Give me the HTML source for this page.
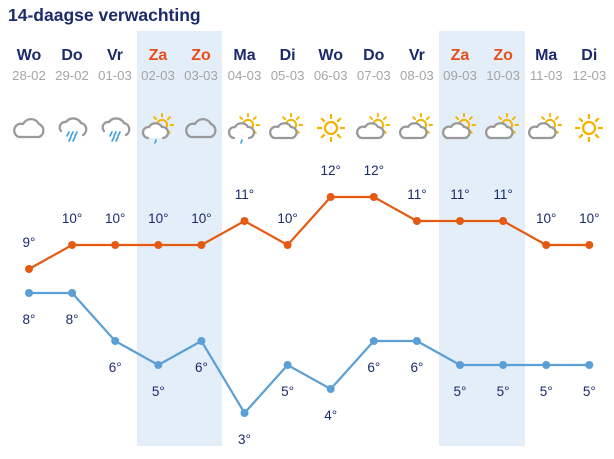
<!DOCTYPE html>
<html><head><meta charset="utf-8"><style>
html,body{margin:0;padding:0;background:#fff;width:614px;height:459px;overflow:hidden}
svg{display:block;font-family:"Liberation Sans",sans-serif}
</style></head><body>
<svg width="614" height="459" viewBox="0 0 614 459">
<defs>
<g id="cloud"><path d="M-10,9 H10 A7,7 0 0 0 10,-4 A9,9 0 0 0 -6,-4 A6.5,6.5 0 0 0 -10,9 Z" fill="none" stroke="#999" stroke-width="2.3" stroke-linejoin="round"/></g>
<g id="sun"><circle r="6" fill="none" stroke="#f5b400" stroke-width="2.3"/>
<g stroke="#f5b400" stroke-width="2.3" stroke-linecap="round">
<line x1="0" y1="-10" x2="0" y2="-13"/><line x1="0" y1="10" x2="0" y2="13"/><line x1="-10" y1="0" x2="-13" y2="0"/><line x1="10" y1="0" x2="13" y2="0"/>
<line x1="7" y1="7" x2="9.2" y2="9.2"/><line x1="-7" y1="7" x2="-9.2" y2="9.2"/><line x1="7" y1="-7" x2="9.2" y2="-9.2"/><line x1="-7" y1="-7" x2="-9.2" y2="-9.2"/></g></g>
<g id="sc"><use href="#sun" transform="translate(5,-4) scale(0.85)"/><path d="M-12,9 H5 A5.5,5.5 0 0 0 5,-2 A7.5,7.5 0 0 0 -8,-2 A5.5,5.5 0 0 0 -12,9 Z" fill="#fff" stroke="#999" stroke-width="2.3" stroke-linejoin="round"/></g>
<g id="rain"><path d="M-11,3 A5.5,5.5 0 0 1 -6,-6 A9,9 0 0 1 9,-5 A6.5,6.5 0 0 1 11,7" fill="none" stroke="#999" stroke-width="2.3" stroke-linecap="round"/>
<g stroke="#3aa0d8" stroke-width="1.6" stroke-linecap="round"><line x1="-3" y1="4" x2="-5" y2="8"/><line x1="1" y1="4" x2="-1" y2="8"/><line x1="5" y1="4" x2="3" y2="8"/><line x1="-1" y1="9" x2="-3" y2="13"/><line x1="3" y1="9" x2="1" y2="13"/></g></g>
<g id="scr"><use href="#sun" transform="translate(5,-4) scale(0.85)"/><path d="M-9,9 A5.5,5.5 0 0 1 -8,-2 A7.5,7.5 0 0 1 5,-2 A5.5,5.5 0 0 1 6,9" fill="#fff" stroke="#999" stroke-width="2.3" stroke-linecap="round"/><line x1="-1" y1="11" x2="-2" y2="14" stroke="#3aa0d8" stroke-width="1.6" stroke-linecap="round"/></g>
</defs>
<rect x="137" y="31" width="85" height="415" fill="#e3eef8"/>
<rect x="439" y="31" width="86" height="415" fill="#e3eef8"/>
<text x="8" y="21" font-size="17.5" font-weight="bold" fill="#1b2a6b">14-daagse verwachting</text>
<g font-size="16" font-weight="bold" text-anchor="middle" fill="#1b2a6b">
<text x="29" y="60">Wo</text><text x="72" y="60">Do</text><text x="115" y="60">Vr</text><text x="158" y="60" fill="#e84e1b">Za</text><text x="201" y="60" fill="#e84e1b">Zo</text><text x="244.5" y="60">Ma</text><text x="287.6" y="60">Di</text><text x="330.7" y="60">Wo</text><text x="373.8" y="60">Do</text><text x="416.9" y="60">Vr</text><text x="460" y="60" fill="#e84e1b">Za</text><text x="503.1" y="60" fill="#e84e1b">Zo</text><text x="546.2" y="60">Ma</text><text x="589.3" y="60">Di</text>
</g>
<g font-size="13.2" text-anchor="middle" fill="#a5a5a5">
<text x="29" y="80">28-02</text><text x="72" y="80">29-02</text><text x="115" y="80">01-03</text><text x="158" y="80">02-03</text><text x="201" y="80">03-03</text><text x="244.5" y="80">04-03</text><text x="287.6" y="80">05-03</text><text x="330.7" y="80">06-03</text><text x="373.8" y="80">07-03</text><text x="416.9" y="80">08-03</text><text x="460" y="80">09-03</text><text x="503.1" y="80">10-03</text><text x="546.2" y="80">11-03</text><text x="589.3" y="80">12-03</text>
</g>
<use href="#cloud" x="29" y="128"/><use href="#rain" x="72" y="128"/><use href="#rain" x="115" y="128"/><use href="#scr" x="157" y="129"/><use href="#cloud" x="201" y="128"/><use href="#scr" x="243" y="129"/><use href="#sc" x="286" y="129"/><use href="#sun" x="331" y="128"/><use href="#sc" x="373" y="129"/><use href="#sc" x="416" y="129"/><use href="#sc" x="459" y="129"/><use href="#sc" x="502" y="129"/><use href="#sc" x="545" y="129"/><use href="#sun" x="589" y="128"/>
<polyline fill="none" stroke="#e55a13" stroke-width="2.2" points="29,269 72.1,245 115.2,245 158.3,245 201.4,245 244.5,221 287.6,245 330.7,197 373.8,197 416.9,221 460,221 503.1,221 546.2,245 589.3,245"/>
<g fill="#e55a13"><circle cx="29" cy="269" r="4"/><circle cx="72.1" cy="245" r="4"/><circle cx="115.2" cy="245" r="4"/><circle cx="158.3" cy="245" r="4"/><circle cx="201.4" cy="245" r="4"/><circle cx="244.5" cy="221" r="4"/><circle cx="287.6" cy="245" r="4"/><circle cx="330.7" cy="197" r="4"/><circle cx="373.8" cy="197" r="4"/><circle cx="416.9" cy="221" r="4"/><circle cx="460" cy="221" r="4"/><circle cx="503.1" cy="221" r="4"/><circle cx="546.2" cy="245" r="4"/><circle cx="589.3" cy="245" r="4"/></g>
<polyline fill="none" stroke="#5a9fd6" stroke-width="2.2" points="29,293 72.1,293 115.2,341 158.3,365 201.4,341 244.5,413 287.6,365 330.7,389 373.8,341 416.9,341 460,365 503.1,365 546.2,365 589.3,365"/>
<g fill="#5a9fd6"><circle cx="29" cy="293" r="4"/><circle cx="72.1" cy="293" r="4"/><circle cx="115.2" cy="341" r="4"/><circle cx="158.3" cy="365" r="4"/><circle cx="201.4" cy="341" r="4"/><circle cx="244.5" cy="413" r="4"/><circle cx="287.6" cy="365" r="4"/><circle cx="330.7" cy="389" r="4"/><circle cx="373.8" cy="341" r="4"/><circle cx="416.9" cy="341" r="4"/><circle cx="460" cy="365" r="4"/><circle cx="503.1" cy="365" r="4"/><circle cx="546.2" cy="365" r="4"/><circle cx="589.3" cy="365" r="4"/></g>
<g font-size="13.5" text-anchor="middle" fill="#1b2a6b">
<text x="29" y="247">9°</text><text x="72.1" y="223">10°</text><text x="115.2" y="223">10°</text><text x="158.3" y="223">10°</text><text x="201.4" y="223">10°</text><text x="244.5" y="199">11°</text><text x="287.6" y="223">10°</text><text x="330.7" y="175">12°</text><text x="373.8" y="175">12°</text><text x="416.9" y="199">11°</text><text x="460" y="199">11°</text><text x="503.1" y="199">11°</text><text x="546.2" y="223">10°</text><text x="589.3" y="223">10°</text>
<text x="29" y="324">8°</text><text x="72.1" y="324">8°</text><text x="115.2" y="372">6°</text><text x="158.3" y="396">5°</text><text x="201.4" y="372">6°</text><text x="244.5" y="444">3°</text><text x="287.6" y="396">5°</text><text x="330.7" y="420">4°</text><text x="373.8" y="372">6°</text><text x="416.9" y="372">6°</text><text x="460" y="396">5°</text><text x="503.1" y="396">5°</text><text x="546.2" y="396">5°</text><text x="589.3" y="396">5°</text>
</g>
</svg>
</body></html>
